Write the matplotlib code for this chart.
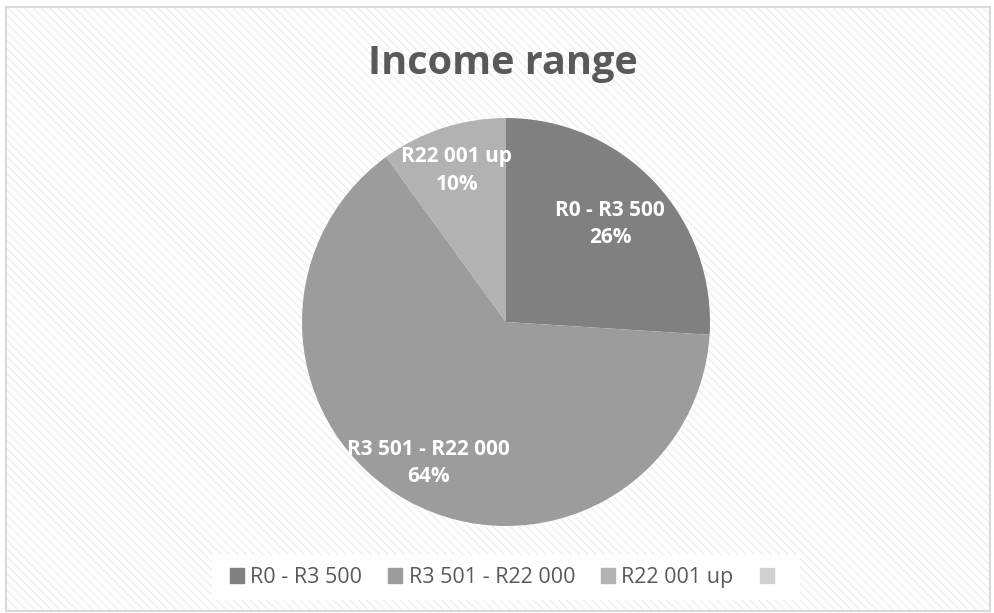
import matplotlib.pyplot as plt
from matplotlib.patches import Rectangle
import numpy as np

plt.rcParams['font.family'] = ['Open Sans', 'DejaVu Sans']
plt.rcParams['hatch.color'] = '#efefef'

categories = ['R0 - R3 500', 'R3 501 - R22 000', 'R22 001 up', '']
shares = [26, 64, 10, 0]
colors = ['#808080', '#9c9c9c', '#b2b2b2', '#d0d0d0']
label_dist = [0.70, 0.79, 0.78, 0.7]

fig = plt.figure(figsize=(9.94, 6.13), dpi=100)
fig.patch.set_facecolor('white')

# hatched chart background + thin border
bg = Rectangle((0.006, 0.003), 0.99, 0.985, transform=fig.transFigure,
               facecolor='white', edgecolor='#efefef', hatch='\\\\\\\\',
               linewidth=0, zorder=-2)
fig.add_artist(bg)
border = Rectangle((0.006, 0.003), 0.99, 0.985, transform=fig.transFigure,
                   facecolor='none', edgecolor='#d9d9d9', linewidth=1.5, zorder=-1)
fig.add_artist(border)

fig.text(0.506, 0.897, 'Income range', ha='center', va='center',
         fontsize=28.5, fontweight='bold', color='#595959')

# pie axes: centre (506, 322), radius ~204 px
ax = fig.add_axes([(506 - 204) / 994, (613 - 322 - 204) / 613, 408 / 994, 408 / 613])
ax.set_aspect('equal')
ax.pie(shares, colors=colors, startangle=90, counterclock=False, radius=1.0)
ax.set_xlim(-1, 1)
ax.set_ylim(-1, 1)
ax.axis('off')

start = 90.0
for cat, v, d in zip(categories, shares, label_dist):
    if v == 0:
        continue
    mid = np.deg2rad(start - v * 3.6 / 2)
    start -= v * 3.6
    ax.text(d * np.cos(mid), d * np.sin(mid), f'{cat}\n{v}%', ha='center', va='center',
            fontsize=15, fontweight='bold', color='white', linespacing=1.4)

# legend strip
leg_bg = Rectangle((212 / 994, (613 - 600) / 613), 588 / 994, 45 / 613,
                   transform=fig.transFigure, facecolor='white', edgecolor='none', zorder=0)
fig.add_artist(leg_bg)
handles = [Rectangle((0, 0), 1, 1, color=c) for c in colors]
fig.legend(handles, categories, loc='center', bbox_to_anchor=(0.508, 0.058), ncol=4,
           frameon=False, fontsize=15.5, labelcolor='#595959', handlelength=0.65,
           handleheight=0.65, handletextpad=0.3, columnspacing=1.2)

fig.savefig('out.png', dpi=100)
